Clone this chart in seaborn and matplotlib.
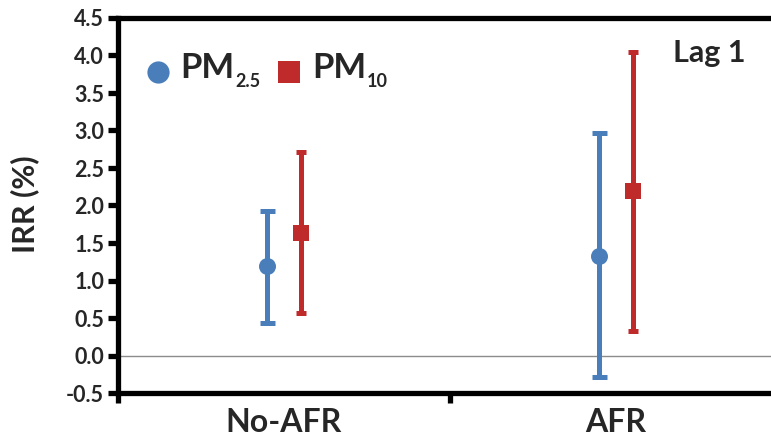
import numpy as np
import pandas as pd
import matplotlib
matplotlib.use("Agg")
import matplotlib.pyplot as plt
import seaborn as sns

# Incidence rate ratios (%) at lag 1, with 95% confidence limits
groups = ["No-AFR", "AFR"]
pollutants = ["PM2.5", "PM10"]
pm25_est = [1.19, 1.33]
pm25_low = [0.44, -0.28]
pm25_high = [1.93, 2.97]
pm10_est = [1.64, 2.19]
pm10_low = [0.57, 0.33]
pm10_high = [2.71, 4.05]
y_ticks = [-0.5, 0.0, 0.5, 1.0, 1.5, 2.0, 2.5, 3.0, 3.5, 4.0, 4.5]

sns.set_theme(style="white")
plt.rcParams["font.family"] = ["Lato", "DejaVu Sans"]

blue = "#4A7EBB"
red = "#BF2A2A"

df = pd.DataFrame({
    "group": groups * 2,
    "pollutant": [pollutants[0]] * 2 + [pollutants[1]] * 2,
    "est": pm25_est + pm10_est,
    "low": pm25_low + pm10_low,
    "high": pm25_high + pm10_high,
})
offset = {"PM2.5": -0.05, "PM10": 0.05}
df["x"] = [groups.index(g) + offset[p] for g, p in zip(df["group"], df["pollutant"])]

W, H = 771, 440
fig = plt.figure(figsize=(W / 100, H / 100), dpi=100)
AX_L, AX_B, AX_W, AX_H = 118, 47, 664, 375
ax = fig.add_axes([AX_L / W, AX_B / H, AX_W / W, AX_H / H])


def axfrac(px, py):
    """Pixel position (from the top-left of the figure) to axes fraction."""
    return (px - AX_L) / AX_W, (H - AX_B - py) / AX_H


# per-pollutant styling: colour, marker, marker area, cap half-width
styles = {
    "PM2.5": dict(color=blue, marker="o", s=150, cap=5.4),
    "PM10": dict(color=red, marker="s", s=118, cap=3.6),
}

for p in pollutants:
    sub = df[df["pollutant"] == p]
    st = styles[p]
    # confidence interval
    ax.errorbar(sub["x"], sub["est"],
                yerr=[sub["est"] - sub["low"], sub["high"] - sub["est"]],
                fmt="none", ecolor=st["color"], elinewidth=3.6,
                capsize=st["cap"], capthick=3.6, zorder=2)
    # point estimate
    sns.scatterplot(data=sub, x="x", y="est", color=st["color"],
                    marker=st["marker"], s=st["s"], linewidth=0,
                    ax=ax, zorder=3, legend=False)

ax.axhline(0, color="#8c8c8c", lw=1.0, zorder=1)

ax.set_xlim(-0.5, 1.5)
ax.set_ylim(-0.5, 4.5)
ax.set_yticks(y_ticks)
ax.set_yticklabels([f"{v:.1f}" for v in y_ticks])
ax.set_xticks([0, 1])
ax.set_xticklabels(groups)
ax.set_xticks([-0.5, 0.5, 1.5], minor=True)
ax.tick_params(axis="x", which="major", length=0, pad=11, labelsize=23)
ax.tick_params(axis="x", which="minor", length=7, width=3.8, direction="out",
               color="black", bottom=True)
ax.tick_params(axis="y", which="major", length=7, width=3.8, direction="out",
               color="black", left=True, labelsize=15.5, pad=3)
for lab in ax.get_xticklabels() + ax.get_yticklabels():
    lab.set_fontweight("bold")

ax.set_xlabel("")
ax.set_ylabel("IRR (%)", fontsize=22, fontweight="bold", va="center")
ax.yaxis.set_label_coords(*axfrac(25, 204))

for side in ["left", "bottom", "top"]:
    ax.spines[side].set_visible(True)
    ax.spines[side].set_color("black")
    ax.spines[side].set_linewidth(3.8)
ax.spines["right"].set_visible(False)

ax.text(*axfrac(673, 62), "Lag 1", transform=ax.transAxes, fontsize=22,
        fontweight="bold", ha="left", va="baseline")

# legend: marker, "PM" and a small subscript for each pollutant
legend_items = [("PM2.5", "2.5", 158, 180), ("PM10", "10", 289, 312)]
fig.canvas.draw()
renderer = fig.canvas.get_renderer()
for key, subscript, mx, tx in legend_items:
    st = styles[key]
    ax.plot(*axfrac(mx, 72), transform=ax.transAxes, marker=st["marker"],
            color=st["color"], markersize=16 if st["marker"] == "o" else 15.5,
            markeredgewidth=0, ls="none", clip_on=False)
    t = ax.text(*axfrac(tx, 78), "PM", transform=ax.transAxes, fontsize=25,
                fontweight="bold", ha="left", va="baseline")
    bb = t.get_window_extent(renderer=renderer)
    sub_x = bb.x1 + 1
    ax.text(*axfrac(sub_x, 87), subscript, transform=ax.transAxes,
            fontsize=13, fontweight="bold", ha="left", va="baseline")

fig.savefig("out.png", dpi=100)
